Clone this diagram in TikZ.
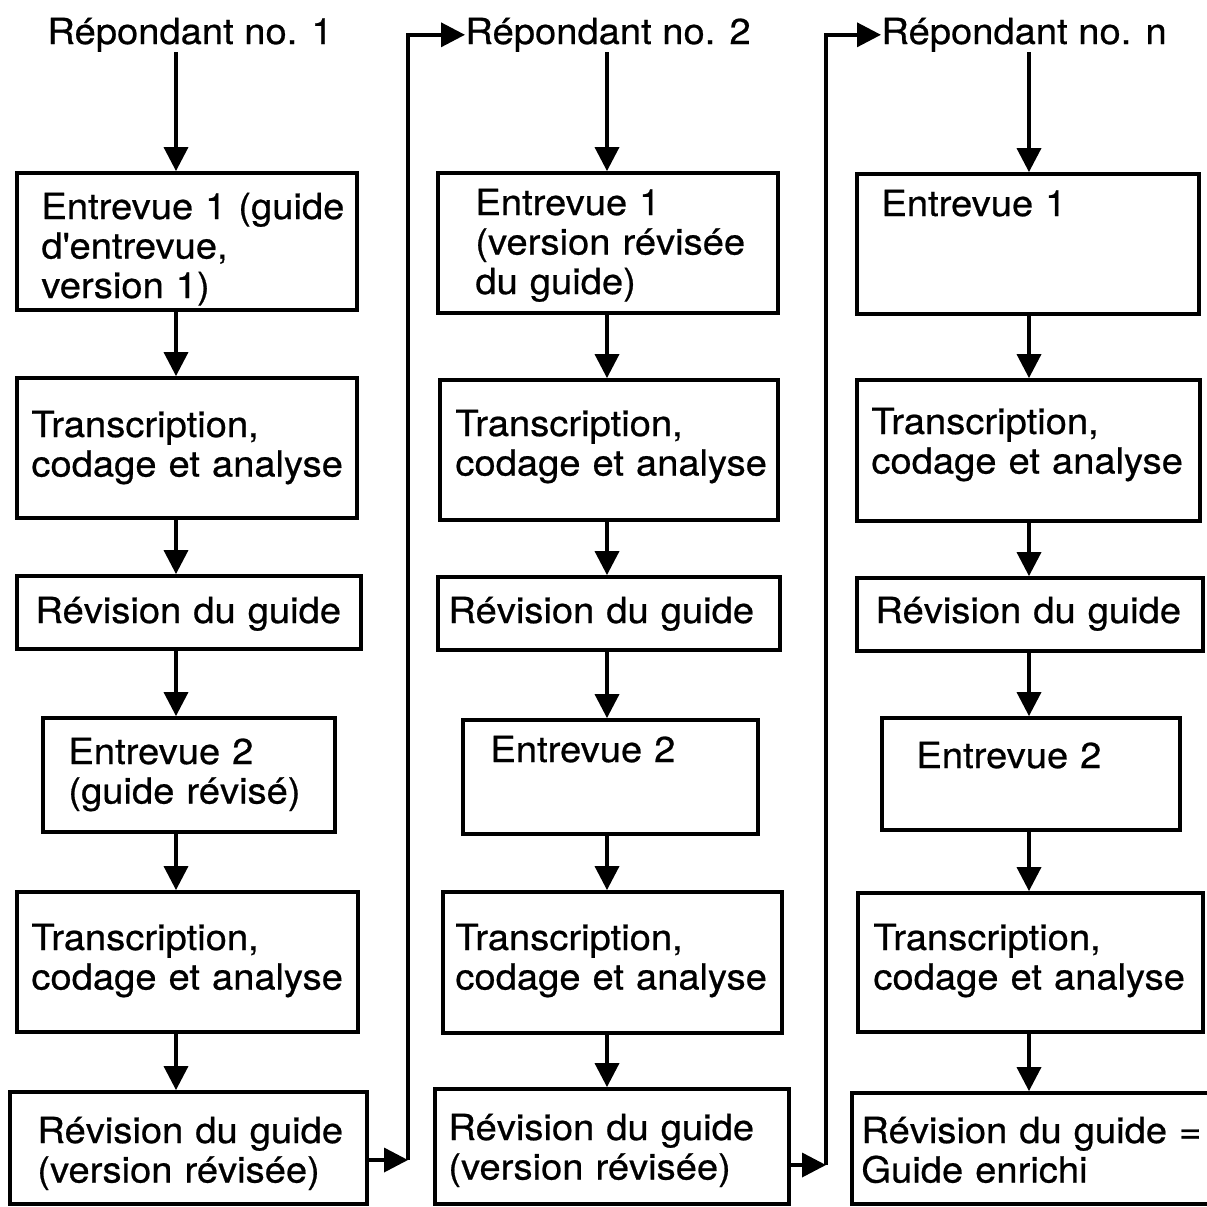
\documentclass[tikz,border=0pt]{standalone}
\usepackage{fontspec}
\setmainfont[FakeStretch=1.06,FakeBold=0.6]{TeX Gyre Heros}
\usetikzlibrary{arrows.meta,fit}
\newcommand\flowfont{\fontsize{18}{19.75}\selectfont}
\begin{document}
\begin{tikzpicture}[x=0.5pt,y=-0.5pt,
  stepbox/.style={draw, line width=1.9pt, inner sep=0pt, fit={#1}},
  txt/.style={anchor=base west, inner sep=0pt, align=left, text width=200pt, font=\flowfont},
  hdr/.style={anchor=base west, inner sep=0pt, font=\flowfont},
  arr/.style={line width=1.8pt, -{Triangle[length=12pt,width=12pt]}}]
\useasboundingbox (0,0) rectangle (1207,1207);
\fill[white] (0,0) rectangle (1207,1207);
\clip (0,0) rectangle (1207,1207);

% ---------- column 1 ----------
\node[hdr] (h1) at (47,44) {Répondant no. 1};
\node[stepbox={(17,173) (357,310)}] (E11) {};
\node[txt] (tE11) at (41,219) {Entrevue 1 (guide\\d\textquotesingle entrevue,\\version 1)};
\node[stepbox={(17,378) (357,518)}] (T11) {};
\node[txt] (tT11) at (31,437) {Transcription,\\codage et analyse};
\node[stepbox={(17,576) (361,649)}] (R11) {};
\node[txt] (tR11) at (35,623) {Révision du guide};
\node[stepbox={(43,718) (335,832)}] (E21) {};
\node[txt] (tE21) at (68,764) {Entrevue 2\\(guide révisé)};
\node[stepbox={(17,892) (358,1032)}] (T21) {};
\node[txt] (tT21) at (31,950) {Transcription,\\codage et analyse};
\node[stepbox={(10,1092) (367,1204)}] (R21) {};
\node[txt] (tR21) at (37,1143) {Révision du guide\\(version révisée)};

% ---------- column 2 ----------
\node[hdr] (h2) at (465,44) {Répondant no. 2};
\node[stepbox={(438,173) (778,313)}] (E12) {};
\node[txt] (tE12) at (475,215) {Entrevue 1\\(version révisée\\du guide)};
\node[stepbox={(440,380) (778,520)}] (T12) {};
\node[txt] (tT12) at (455,436) {Transcription,\\codage et analyse};
\node[stepbox={(438,577) (780,650)}] (R12) {};
\node[txt] (tR12) at (448,623) {Révision du guide};
\node[stepbox={(463,720) (758,834)}] (E22) {};
\node[txt] (tE22) at (490,762) {Entrevue 2};
\node[stepbox={(443,892) (782,1033)}] (T22) {};
\node[txt] (tT22) at (455,950) {Transcription,\\codage et analyse};
\node[stepbox={(435,1089) (789,1204)}] (R22) {};
\node[txt] (tR22) at (448,1140) {Révision du guide\\(version révisée)};

% ---------- column 3 ----------
\node[hdr] (h3) at (881,44) {Répondant no. n};
\node[stepbox={(857,174) (1199,314)}] (E13) {};
\node[txt] (tE13) at (881,216) {Entrevue 1};
\node[stepbox={(857,380) (1200,521)}] (T13) {};
\node[txt] (tT13) at (871,434) {Transcription,\\codage et analyse};
\node[stepbox={(857,578) (1203,651)}] (R13) {};
\node[txt] (tR13) at (875,623) {Révision du guide};
\node[stepbox={(882,718) (1180,830)}] (E23) {};
\node[txt] (tE23) at (916,768) {Entrevue 2};
\node[stepbox={(858,893) (1203,1032)}] (T23) {};
\node[txt] (tT23) at (873,950) {Transcription,\\codage et analyse};
\node[stepbox={(852,1093) (1215,1204)}] (R23) {};
\node[txt] (tR23) at (861,1143) {Révision du guide =\\Guide enrichi};

% ---------- vertical flow in each column ----------
\foreach \c/\ax in {1/176,2/607,3/1029} {
  \coordinate (ax\c) at (\ax,0);
  \draw[arr] (h\c.south -| ax\c) -- (E1\c.north -| ax\c);
  \draw[arr] (E1\c.south -| ax\c) -- (T1\c.north -| ax\c);
  \draw[arr] (T1\c.south -| ax\c) -- (R1\c.north -| ax\c);
  \draw[arr] (R1\c.south -| ax\c) -- (E2\c.north -| ax\c);
  \draw[arr] (E2\c.south -| ax\c) -- (T2\c.north -| ax\c);
  \draw[arr] (T2\c.south -| ax\c) -- (R2\c.north -| ax\c);
}

% ---------- hand-over to the next respondent ----------
\coordinate (j1) at (408,1160);
\draw[arr] (j1 -| R21.east) -- (j1);
\draw[arr] (j1) |- (h2.west);
\coordinate (j2) at (826,1165);
\draw[arr] (j2 -| R22.east) -- (j2);
\draw[arr] (j2) |- (h3.west);
\end{tikzpicture}
\end{document}
